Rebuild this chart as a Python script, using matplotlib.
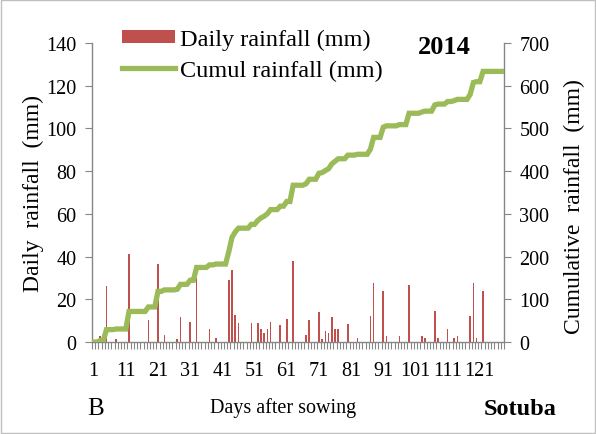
import numpy as np
import matplotlib
matplotlib.use("Agg")
import matplotlib.pyplot as plt
from matplotlib.lines import Line2D
from matplotlib.patches import Patch, Rectangle

plt.rcParams["font.family"] = ["Liberation Serif", "DejaVu Serif"]

# Season length (days after sowing) and the rainy days with their totals (mm)
n_days = 128
rain_days = [3, 5, 8, 12, 18, 21, 23, 27, 28, 31, 33, 37, 39, 43, 44, 45, 46,
             50, 52, 53, 54, 55, 56, 59, 61, 63, 67, 68, 71, 72, 73, 74, 75,
             76, 77, 80, 83, 87, 88, 91, 92, 96, 99, 103, 104, 107, 108, 111,
             113, 114, 118, 119, 120, 122]
rain_mm = [3, 26, 1.5, 41, 10.5, 36.5, 3.5, 1.5, 11.5, 9.5, 30, 6, 2, 29, 33.5,
           12.5, 9, 9, 9, 6, 4, 6, 9.5, 8, 11, 38, 3.5, 10.5, 14, 1.5, 5, 4,
           11.5, 6, 6, 8.5, 2, 12, 27.5, 24, 3, 3, 26.5, 3, 2, 14.5, 2, 6, 2,
           3, 12, 27.5, 2, 24]
x_labels = list(range(1, n_days + 1, 10))

days = np.arange(1, n_days + 1)
daily = np.zeros(n_days)
for d, mm in zip(rain_days, rain_mm):
    daily[d - 1] = mm
cumul = np.cumsum(daily)

RED = "#C0504D"
GREEN = "#9BBB59"
AXC = "#868686"

fig = plt.figure(figsize=(5.96, 4.35), dpi=100)
ax = fig.add_axes([92 / 596, 1 - 343 / 435, (504 - 92) / 596, (343 - 44) / 435])
ax2 = ax.twinx()

ax.bar(days, daily, width=0.5, color=RED, zorder=2)
ax2.plot(days, cumul, color=GREEN, lw=3.8, solid_joinstyle="miter", zorder=3)

ax.set_xlim(0.5, n_days + 0.5)
ax.set_ylim(0, 140)
ax2.set_ylim(0, 700)
ax.set_yticks(np.arange(0, 141, 20))
ax2.set_yticks(np.arange(0, 701, 100))
ax.set_xticks(x_labels)
ax.set_xticklabels([str(v) for v in x_labels])
ax.set_xticks(np.arange(0.5, n_days + 1, 1), minor=True)

for a in (ax, ax2):
    for s in a.spines.values():
        s.set_color(AXC)
        s.set_linewidth(1.0)
    a.spines["top"].set_visible(False)
ax.spines["right"].set_visible(False)
ax2.spines["left"].set_visible(False)
ax2.spines["bottom"].set_visible(False)

ax.tick_params(axis="x", which="major", length=0, pad=14, labelsize=14.5)
ax.tick_params(axis="x", which="minor", length=5, width=0.8, color=AXC)
ax.tick_params(axis="y", length=5, width=0.8, color=AXC, labelsize=14.5, pad=6)
ax2.tick_params(axis="y", length=5, width=0.8, color=AXC, labelsize=14.5, pad=6)

ax2.set_zorder(ax.get_zorder() + 1)
ax.patch.set_visible(False)

fig.text(33 / 596, 1 - 194 / 435, "Daily  rainfall  (mm)", rotation=90,
         ha="center", va="center", fontsize=17)
fig.text(574 / 596, 1 - 207 / 435, "Cumulative  rainfall  (mm)", rotation=90,
         ha="center", va="center", fontsize=17)
fig.text(283 / 596, 1 - 408 / 435, "Days after sowing", ha="center",
         va="center", fontsize=14.5)
fig.text(96 / 596, 1 - 409 / 435, "B", ha="center", va="center", fontsize=18)
fig.text(520 / 596, 1 - 410 / 435, "Sotuba", ha="center", va="center",
         fontsize=17.5, fontweight="bold")
fig.text(444 / 596, 1 - 48 / 435, "2014", ha="center", va="center",
         fontsize=19, fontweight="bold")

handles = [Patch(facecolor=RED, edgecolor="none"),
           Line2D([0], [0], color=GREEN, lw=3.8)]
fig.legend(handles, ["Daily rainfall (mm)", "Cumul rainfall (mm)"],
           loc="upper left", bbox_to_anchor=(122 / 596, 1 - 30 / 435),
           frameon=False, fontsize=17.5, handlelength=2.2, handleheight=0.45,
           handletextpad=0.2, labelspacing=0.38, borderpad=0, borderaxespad=0)

fig.patches.append(Rectangle((0.002, 0.002), 0.996, 0.996, transform=fig.transFigure,
                             fill=False, edgecolor="#BFBFBF", lw=1.0))

fig.savefig("out.png", dpi=100)
